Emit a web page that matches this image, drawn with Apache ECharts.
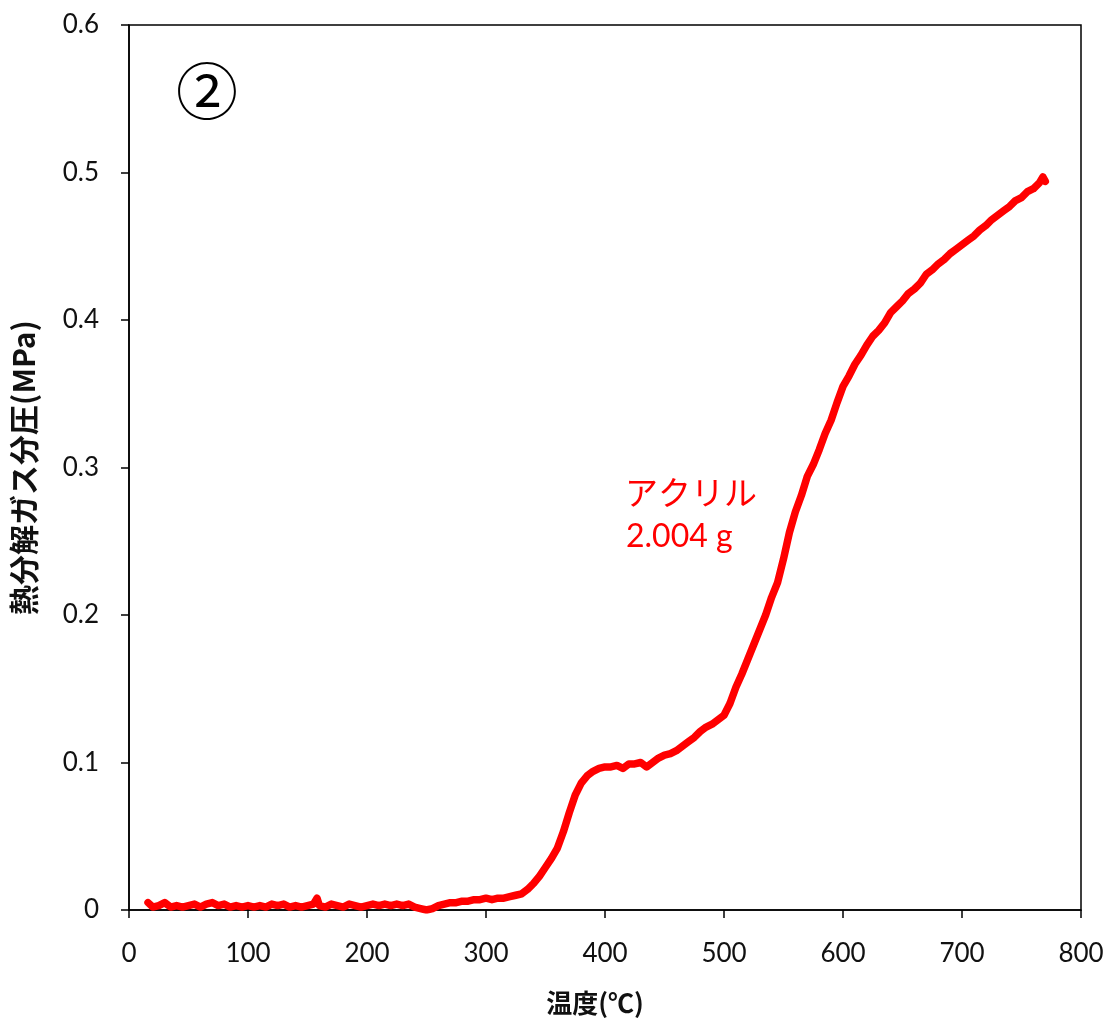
<!DOCTYPE html>
<html>
<head>
<meta charset="utf-8">
<script src="https://cdn.jsdelivr.net/npm/echarts@6/dist/echarts.min.js"></script>
<style>
html,body{margin:0;padding:0;background:#fff;}
#chart{width:1111px;height:1023px;}
</style>
</head>
<body>
<div id="chart"></div>
<script>
const temps = [16,20,25,30,35,40,45,50,55,60,65,70,75,80,85,90,95,100,105,110,115,120,125,130,135,140,145,150,155,158,160,165,170,175,180,185,190,195,200,205,210,215,220,225,230,235,240,245,250,255,260,265,270,275,280,285,290,295,300,305,310,315,320,325,330,335,340,345,350,355,360,365,370,375,380,385,390,395,400,405,410,415,420,425,430,435,440,445,450,455,460,465,470,475,480,485,490,495,500,505,510,515,520,525,530,535,540,545,550,555,560,565,570,575,580,585,590,595,600,605,610,615,620,625,630,635,640,645,650,655,660,665,670,675,680,685,690,695,700,705,710,715,720,725,730,735,740,745,750,755,760,765,768,770];
const pressure = [0.005,0.002,0.003,0.005,0.002,0.003,0.002,0.003,0.004,0.002,0.004,0.005,0.003,0.004,0.002,0.003,0.002,0.003,0.002,0.003,0.002,0.004,0.003,0.004,0.002,0.003,0.002,0.003,0.004,0.008,0.003,0.002,0.004,0.003,0.002,0.004,0.003,0.002,0.003,0.004,0.003,0.004,0.003,0.004,0.003,0.004,0.002,0.001,0.000,0.001,0.003,0.004,0.005,0.005,0.006,0.006,0.007,0.007,0.008,0.007,0.008,0.008,0.009,0.010,0.011,0.014,0.018,0.023,0.029,0.035,0.042,0.053,0.066,0.078,0.086,0.091,0.094,0.096,0.097,0.097,0.098,0.096,0.099,0.099,0.100,0.097,0.100,0.103,0.105,0.106,0.108,0.111,0.114,0.117,0.121,0.124,0.126,0.129,0.132,0.140,0.151,0.160,0.170,0.180,0.190,0.200,0.212,0.222,0.238,0.256,0.270,0.281,0.294,0.302,0.312,0.323,0.332,0.344,0.355,0.362,0.370,0.376,0.383,0.389,0.393,0.398,0.405,0.409,0.413,0.418,0.421,0.425,0.431,0.434,0.438,0.441,0.445,0.448,0.451,0.454,0.457,0.461,0.464,0.468,0.471,0.474,0.477,0.481,0.483,0.487,0.489,0.493,0.497,0.494];
const xTicks = [0,100,200,300,400,500,600,700,800];
const yTicks = [0,0.1,0.2,0.3,0.4,0.5,0.6];
const xAxisTitle = '温度(℃)';
const yAxisTitle = '熱分解ガス分圧(MPa)';
const seriesName = 'アクリル';
const sampleMass = '2.004 g';
const panelLabel = '②';

const chart = echarts.init(document.getElementById('chart'));
const latin = 'Lato, "Noto Sans CJK JP", sans-serif';
chart.setOption({
  animation: false,
  backgroundColor: '#ffffff',
  grid: {left: 129, right: 30, top: 25, bottom: 113, containLabel: false, outerBoundsMode: 'none', show: true, borderColor: '#000', borderWidth: 1.5, backgroundColor: 'transparent'},
  xAxis: {
    type: 'value', min: xTicks[0], max: xTicks[xTicks.length-1], interval: 100,
    name: xAxisTitle, nameLocation: 'middle', nameGap: 80,
    nameTextStyle: {fontSize: 26, fontWeight: 'bold', color: '#111', fontFamily: '"Noto Sans CJK JP", sans-serif', padding: [0, 20, 0, 0]},
    axisLine: {show: true, onZero: false, lineStyle: {color: '#000', width: 1.5}},
    axisTick: {show: true, inside: false, length: 8, lineStyle: {color: '#000', width: 1.5}},
    axisLabel: {fontSize: 26, color: '#111', margin: 31, fontFamily: latin},
    splitLine: {show: false}
  },
  yAxis: {
    type: 'value', min: yTicks[0], max: yTicks[yTicks.length-1], interval: 0.1,
    name: yAxisTitle, nameLocation: 'middle', nameGap: 90, nameRotate: 90,
    nameTextStyle: {fontSize: 30, fontWeight: 'bold', color: '#111', fontFamily: '"Noto Sans CJK JP", sans-serif'},
    axisLine: {show: true, onZero: false, lineStyle: {color: '#000', width: 1.5}},
    axisTick: {show: true, inside: false, length: 8, lineStyle: {color: '#000', width: 1.5}},
    axisLabel: {fontSize: 26, color: '#111', margin: 30, fontFamily: latin},
    splitLine: {show: false}
  },
  series: [{
    name: seriesName,
    type: 'line',
    data: temps.map((t, i) => [t, pressure[i]]),
    showSymbol: false,
    symbol: 'none',
    lineStyle: {color: '#ff0000', width: 7.5, join: 'round', cap: 'round'},
    itemStyle: {color: '#ff0000'},
    z: 3
  }],
  graphic: [
    {type: 'text', left: 176, top: 60, style: {text: panelLabel, fontSize: 62, fill: '#000', fontFamily: '"Noto Sans CJK JP", "DejaVu Sans", sans-serif'}},
    {type: 'text', left: 625, top: 476, style: {text: seriesName, fontSize: 33, fill: '#ff0000', fontFamily: '"Noto Sans CJK JP", sans-serif'}},
    {type: 'text', left: 626, top: 521, style: {text: sampleMass, fontSize: 32, fill: '#ff0000', fontFamily: latin}}
  ]
});
</script>
</body>
</html>
